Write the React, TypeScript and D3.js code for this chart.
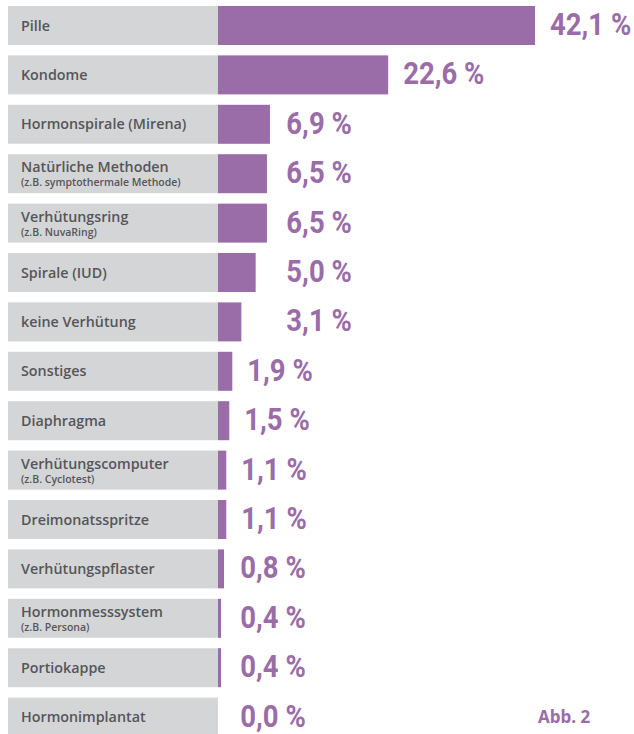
import React from "react";
import * as d3 from "d3";

const categories = [
  "Pille",
  "Kondome",
  "Hormonspirale (Mirena)",
  "Natürliche Methoden",
  "Verhütungsring",
  "Spirale (IUD)",
  "keine Verhütung",
  "Sonstiges",
  "Diaphragma",
  "Verhütungscomputer",
  "Dreimonatsspritze",
  "Verhütungspflaster",
  "Hormonmesssystem",
  "Portiokappe",
  "Hormonimplantat",
];
const subLabels = [
  "",
  "",
  "",
  "(z.B. symptothermale Methode)",
  "(z.B. NuvaRing)",
  "",
  "",
  "",
  "",
  "(z.B. Cyclotest)",
  "",
  "",
  "(z.B. Persona)",
  "",
  "",
];
const values = [42.1, 22.6, 6.9, 6.5, 6.5, 5.0, 3.1, 1.9, 1.5, 1.1, 1.1, 0.8, 0.4, 0.4, 0.0];
const valueLabels = values.map((v) => d3.format(".1f")(v).replace(".", ",") + " %");
const figureLabel = "Abb. 2";

const W = 634;
const H = 734;
const PURPLE = "#9a6ca8";
const GREY = "#d4d5d7";
const TEXT = "#555659";

export default function App() {
  const boxLeft = 8;
  const barLeft = 218;
  const step = 49.4;
  const gap = 10.4;
  const x = d3.scaleLinear().domain([0, 42.1]).range([barLeft, 535]);
  const y = d3
    .scaleBand<number>()
    .domain(d3.range(categories.length))
    .range([6, 6 + step * categories.length - gap])
    .paddingInner(gap / step)
    .paddingOuter(0);
  const bh = y.bandwidth();
  const labelX = (v: number) => {
    const base = x(v) + 15;
    const minX = v >= 3 ? x(3.1) + 45 : x(1.9) + 8;
    return Math.max(base, minX);
  };
  return (
    <svg
      width={W}
      height={H}
      style={{ position: "absolute", left: 0, top: 0, background: "#fff" }}
    >
      {categories.map((c, i) => {
        const y0 = y(i)!;
        const sub = subLabels[i];
        return (
          <g key={c}>
            <rect x={boxLeft} y={y0} width={barLeft - boxLeft} height={bh} fill={GREY} />
            <rect x={barLeft} y={y0} width={x(values[i]) - barLeft} height={bh} fill={PURPLE} />
            {sub ? (
              <>
                <text
                  x={21}
                  y={y0 + 18}
                  fontFamily="'Open Sans', sans-serif"
                  fontSize={14.3}
                  fontWeight={600}
                  fill={TEXT}
                >
                  {c}
                </text>
                <text
                  x={21}
                  y={y0 + 32}
                  fontFamily="'Open Sans', sans-serif"
                  fontSize={10.5}
                  fontWeight={600}
                  fill={TEXT}
                >
                  {sub}
                </text>
              </>
            ) : (
              <text
                x={21}
                y={y0 + 24.5}
                fontFamily="'Open Sans', sans-serif"
                fontSize={14.3}
                fontWeight={600}
                fill={TEXT}
              >
                {c}
              </text>
            )}
            <text
              transform={`translate(${labelX(values[i])},${y0 + 29}) scale(0.86,1)`}
              fontFamily="Roboto, sans-serif"
              fontSize={32}
              fontWeight={700}
              fill={PURPLE}
            >
              {valueLabels[i]}
            </text>
          </g>
        );
      })}
      <text
        x={538}
        y={723}
        fontFamily="'Open Sans', sans-serif"
        fontSize={17}
        fontWeight={700}
        fill={PURPLE}
      >
        {figureLabel}
      </text>
    </svg>
  );
}
